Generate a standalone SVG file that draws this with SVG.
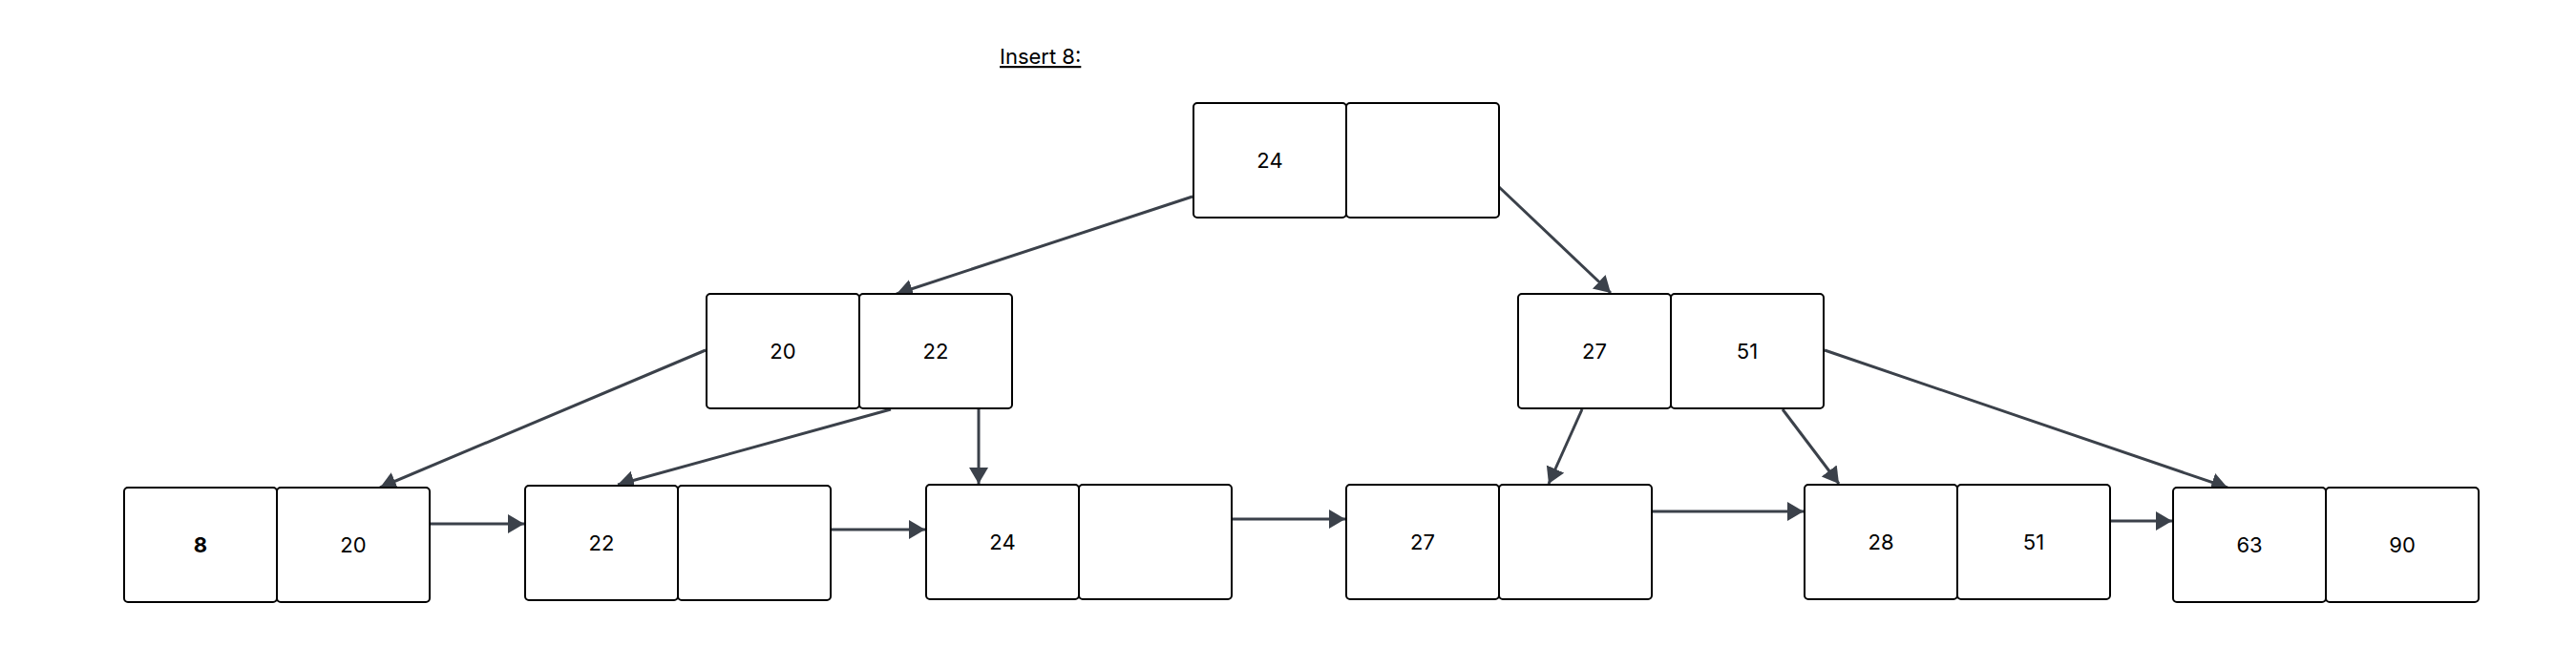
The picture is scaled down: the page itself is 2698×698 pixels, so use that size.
<svg xmlns="http://www.w3.org/2000/svg" width="2698" height="698" viewBox="0 0 2698 698">
<defs>
<style>
.cell{fill:#ffffff;stroke:#000000;stroke-width:2}
.lbl{font-family:Inter,"Liberation Sans",sans-serif;font-size:22px;fill:#000000;text-anchor:middle}
.b{font-weight:700}
.edge{stroke:#3b414a;stroke-width:3;fill:none}
.title{font-family:Inter,"Liberation Sans",sans-serif;font-size:22px;fill:#000000;text-decoration:underline}
</style>
<marker id="ah" markerUnits="userSpaceOnUse" markerWidth="18" markerHeight="22" refX="17" refY="10" orient="auto">
<path d="M0,0 L17,10 L0,20 Z" fill="#3b414a"/>
</marker>
</defs>
<rect width="2698" height="698" fill="#ffffff"/>
<text class="title" x="1047" y="67">Insert 8:</text>
<g id="connectors">
<line class="edge" x1="1249" y1="206" x2="939" y2="308" marker-end="url(#ah)"/>
<line class="edge" x1="1570" y1="196" x2="1687" y2="307" marker-end="url(#ah)"/>
<line class="edge" x1="739" y1="367" x2="398" y2="511" marker-end="url(#ah)"/>
<line class="edge" x1="933" y1="429" x2="647" y2="508" marker-end="url(#ah)"/>
<line class="edge" x1="1025" y1="429" x2="1025" y2="507" marker-end="url(#ah)"/>
<line class="edge" x1="1657" y1="429" x2="1622" y2="507" marker-end="url(#ah)"/>
<line class="edge" x1="1867" y1="429" x2="1926" y2="507" marker-end="url(#ah)"/>
<line class="edge" x1="1911" y1="367" x2="2333" y2="511" marker-end="url(#ah)"/>
<line class="edge" x1="451" y1="549" x2="549" y2="549" marker-end="url(#ah)"/>
<line class="edge" x1="871" y1="555" x2="969" y2="555" marker-end="url(#ah)"/>
<line class="edge" x1="1291" y1="544" x2="1409" y2="544" marker-end="url(#ah)"/>
<line class="edge" x1="1731" y1="536" x2="1889" y2="536" marker-end="url(#ah)"/>
<line class="edge" x1="2211" y1="546" x2="2275" y2="546" marker-end="url(#ah)"/>
</g>
<g id="root">
<rect class="cell" x="1250" y="108" width="160" height="120" rx="4"/>
<rect class="cell" x="1410" y="108" width="160" height="120" rx="4"/>
<text class="lbl" x="1330" y="176">24</text>
</g>
<g id="inner-20-22">
<rect class="cell" x="740" y="308" width="160" height="120" rx="4"/>
<rect class="cell" x="900" y="308" width="160" height="120" rx="4"/>
<text class="lbl" x="820" y="376">20</text>
<text class="lbl" x="980" y="376">22</text>
</g>
<g id="inner-27-51">
<rect class="cell" x="1590" y="308" width="160" height="120" rx="4"/>
<rect class="cell" x="1750" y="308" width="160" height="120" rx="4"/>
<text class="lbl" x="1670" y="376">27</text>
<text class="lbl" x="1830" y="376">51</text>
</g>
<g id="leaf-8-20">
<rect class="cell" x="130" y="511" width="160" height="120" rx="4"/>
<rect class="cell" x="290" y="511" width="160" height="120" rx="4"/>
<text class="lbl b" x="210" y="579">8</text>
<text class="lbl" x="370" y="579">20</text>
</g>
<g id="leaf-22">
<rect class="cell" x="550" y="509" width="160" height="120" rx="4"/>
<rect class="cell" x="710" y="509" width="160" height="120" rx="4"/>
<text class="lbl" x="630" y="577">22</text>
</g>
<g id="leaf-24">
<rect class="cell" x="970" y="508" width="160" height="120" rx="4"/>
<rect class="cell" x="1130" y="508" width="160" height="120" rx="4"/>
<text class="lbl" x="1050" y="576">24</text>
</g>
<g id="leaf-27">
<rect class="cell" x="1410" y="508" width="160" height="120" rx="4"/>
<rect class="cell" x="1570" y="508" width="160" height="120" rx="4"/>
<text class="lbl" x="1490" y="576">27</text>
</g>
<g id="leaf-28-51">
<rect class="cell" x="1890" y="508" width="160" height="120" rx="4"/>
<rect class="cell" x="2050" y="508" width="160" height="120" rx="4"/>
<text class="lbl" x="1970" y="576">28</text>
<text class="lbl" x="2130" y="576">51</text>
</g>
<g id="leaf-63-90">
<rect class="cell" x="2276" y="511" width="160" height="120" rx="4"/>
<rect class="cell" x="2436" y="511" width="160" height="120" rx="4"/>
<text class="lbl" x="2356" y="579">63</text>
<text class="lbl" x="2516" y="579">90</text>
</g>
</svg>
